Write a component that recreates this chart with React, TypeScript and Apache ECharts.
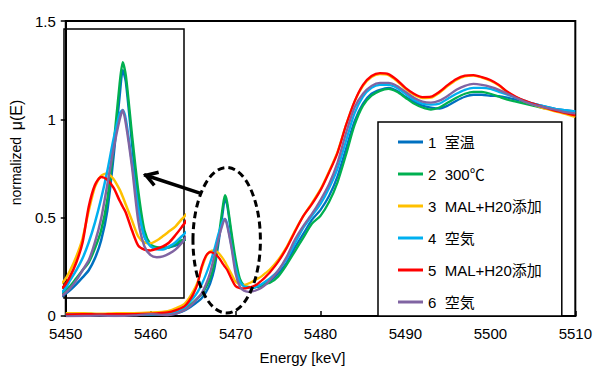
import React, { useEffect, useRef } from "react";
import * as echarts from "echarts";

const energy = [5450, 5452, 5454, 5456, 5458, 5460, 5462, 5463, 5464, 5464.5, 5465, 5465.5, 5466, 5466.5, 5467, 5467.5, 5468, 5468.5, 5468.75, 5469, 5469.5, 5470, 5470.5, 5471, 5471.5, 5472, 5472.5, 5473, 5473.5, 5474, 5475, 5476, 5477, 5478, 5479, 5480, 5481, 5482, 5483, 5484, 5485, 5486, 5487, 5488, 5489, 5490, 5491, 5492, 5493, 5494, 5495, 5496, 5497, 5498, 5499, 5500, 5501, 5502, 5503, 5504, 5505, 5506, 5507, 5508, 5509, 5510];

const seriesNames = ["1  室温", "2  300℃", "3  MAL+H20添加", "4  空気", "5  MAL+H20添加", "6  空気"];
const seriesColors = ["#0070C0", "#00B050", "#FFC000", "#00B0F0", "#FF0000", "#8064A2"];

const s1 = [0.006, 0.008, 0.006, 0.007, 0.008, 0.007, 0.008, 0.012, 0.028, 0.04, 0.055, 0.072, 0.09, 0.12, 0.165, 0.24, 0.375, 0.53, 0.594, 0.565, 0.41, 0.26, 0.175, 0.152, 0.146, 0.146, 0.148, 0.152, 0.16, 0.175, 0.215, 0.27, 0.35, 0.42, 0.49, 0.54, 0.61, 0.71, 0.85, 0.99, 1.08, 1.13, 1.15, 1.16, 1.145, 1.115, 1.09, 1.07, 1.06, 1.055, 1.07, 1.095, 1.115, 1.125, 1.125, 1.12, 1.118, 1.11, 1.1, 1.09, 1.08, 1.07, 1.06, 1.05, 1.045, 1.04];
const s2 = [0.01, 0.012, 0.01, 0.01, 0.012, 0.01, 0.012, 0.018, 0.035, 0.05, 0.07, 0.09, 0.11, 0.145, 0.19, 0.267, 0.4, 0.56, 0.614, 0.58, 0.43, 0.29, 0.19, 0.155, 0.148, 0.146, 0.148, 0.156, 0.166, 0.168, 0.2, 0.26, 0.33, 0.4, 0.47, 0.51, 0.58, 0.68, 0.82, 0.97, 1.07, 1.12, 1.145, 1.155, 1.14, 1.11, 1.08, 1.06, 1.05, 1.06, 1.085, 1.11, 1.13, 1.14, 1.14, 1.13, 1.115, 1.1, 1.09, 1.08, 1.07, 1.06, 1.052, 1.045, 1.038, 1.03];
const s3 = [0.015, 0.015, 0.012, 0.015, 0.015, 0.018, 0.025, 0.04, 0.063, 0.09, 0.125, 0.17, 0.24, 0.3, 0.328, 0.334, 0.32, 0.293, 0.275, 0.255, 0.215, 0.175, 0.16, 0.158, 0.165, 0.176, 0.188, 0.2, 0.218, 0.235, 0.285, 0.35, 0.435, 0.51, 0.575, 0.645, 0.735, 0.835, 0.97, 1.09, 1.17, 1.215, 1.23, 1.225, 1.195, 1.155, 1.125, 1.108, 1.11, 1.135, 1.17, 1.2, 1.218, 1.222, 1.212, 1.196, 1.172, 1.138, 1.112, 1.092, 1.076, 1.06, 1.048, 1.036, 1.025, 1.012];
const s4 = [0.008, 0.008, 0.007, 0.008, 0.009, 0.008, 0.012, 0.02, 0.04, 0.065, 0.09, 0.12, 0.16, 0.21, 0.27, 0.34, 0.42, 0.485, 0.494, 0.47, 0.36, 0.245, 0.175, 0.15, 0.143, 0.142, 0.15, 0.16, 0.175, 0.19, 0.23, 0.29, 0.37, 0.45, 0.51, 0.57, 0.65, 0.75, 0.89, 1.03, 1.115, 1.16, 1.175, 1.175, 1.16, 1.13, 1.1, 1.08, 1.075, 1.08, 1.105, 1.13, 1.15, 1.16, 1.16, 1.155, 1.14, 1.125, 1.11, 1.095, 1.08, 1.07, 1.06, 1.05, 1.045, 1.04];
const s5 = [0.008, 0.01, 0.008, 0.01, 0.01, 0.012, 0.018, 0.03, 0.05, 0.075, 0.11, 0.16, 0.25, 0.305, 0.325, 0.318, 0.298, 0.265, 0.25, 0.235, 0.19, 0.152, 0.142, 0.14, 0.144, 0.15, 0.16, 0.178, 0.198, 0.22, 0.275, 0.345, 0.43, 0.51, 0.57, 0.64, 0.73, 0.83, 0.97, 1.09, 1.175, 1.22, 1.235, 1.23, 1.2, 1.16, 1.13, 1.113, 1.115, 1.14, 1.175, 1.205, 1.222, 1.225, 1.215, 1.2, 1.175, 1.14, 1.115, 1.095, 1.08, 1.065, 1.052, 1.04, 1.03, 1.02];
const s6 = [-0.003, 0.0, 0.002, 0.0, 0.003, 0.01, 0.005, 0.012, 0.03, 0.045, 0.065, 0.09, 0.115, 0.16, 0.22, 0.305, 0.395, 0.47, 0.494, 0.46, 0.35, 0.215, 0.15, 0.128, 0.123, 0.125, 0.132, 0.142, 0.158, 0.18, 0.23, 0.3, 0.39, 0.46, 0.52, 0.59, 0.67, 0.78, 0.93, 1.06, 1.13, 1.17, 1.185, 1.185, 1.17, 1.14, 1.11, 1.09, 1.085, 1.095, 1.12, 1.15, 1.17, 1.18, 1.175, 1.165, 1.15, 1.13, 1.11, 1.09, 1.075, 1.065, 1.055, 1.045, 1.035, 1.03];

const seriesValues = [s1, s2, s3, s4, s5, s6];

const xTicks = { min: 5450, max: 5510, interval: 10 };
const yTicks = { min: 0, max: 1.5, interval: 0.5 };
const insetRange = { xMin: 5464.0, xMax: 5473.7, yMin: 0.02, yMax: 0.698 };

// annotation anchors, in data coordinates
const ellipseCenter = [5468.95, 0.385];
const ellipseRadius = [3.97, 0.37];
const arrowFrom = [5465.8, 0.625];
const arrowTo = [5459.45, 0.715];

const FONT = "'Liberation Sans', 'Noto Sans CJK JP', sans-serif";

export default function App() {
  const ref = useRef<HTMLDivElement>(null);

  useEffect(() => {
    document.body.style.margin = "0";
    if (!ref.current) return;
    const chart = echarts.init(ref.current, null, { renderer: "svg" });

    const series: any[] = [];
    seriesValues.forEach((vals, i) => {
      const data = energy.map((e, k) => [e, vals[k]]);
      series.push({
        name: seriesNames[i],
        type: "line",
        xAxisIndex: 0,
        yAxisIndex: 0,
        data,
        symbol: "none",
        smooth: 0.25,
        lineStyle: { color: seriesColors[i], width: 2.3 },
        itemStyle: { color: seriesColors[i] },
      });
    });
    seriesValues.forEach((vals, i) => {
      const data = energy.map((e, k) => [e, vals[k]]);
      series.push({
        name: seriesNames[i],
        type: "line",
        xAxisIndex: 1,
        yAxisIndex: 1,
        data,
        symbol: "none",
        smooth: 0.25,
        clip: true,
        lineStyle: { color: seriesColors[i], width: 2.5 },
        itemStyle: { color: seriesColors[i] },
      });
    });

    const option: any = {
      animation: false,
      backgroundColor: "#fff",
      textStyle: { fontFamily: FONT },
      grid: [
        { left: 58, right: 16, top: 21, bottom: 49, show: true, borderColor: "#000", borderWidth: 2, backgroundColor: "transparent" },
        { left: 64, top: 29, width: 120, height: 269, show: true, borderColor: "#000", borderWidth: 1.5, backgroundColor: "#fff" },
      ],
      xAxis: [
        {
          type: "value",
          gridIndex: 0,
          min: xTicks.min,
          max: xTicks.max,
          interval: xTicks.interval,
          name: "Energy [keV]",
          nameLocation: "middle",
          nameGap: 34,
          nameTextStyle: { fontSize: 15, color: "#000", fontFamily: FONT, padding: [0, 36, 0, 0] },
          axisLine: { show: true, lineStyle: { color: "#000", width: 2 } },
          axisTick: { show: true, inside: true, length: 5, lineStyle: { color: "#000", width: 1.5 } },
          axisLabel: { color: "#000", fontSize: 15, margin: 10, fontFamily: FONT, formatter: (v: number) => String(v) },
          splitLine: { show: false },
        },
        {
          type: "value",
          gridIndex: 1,
          min: insetRange.xMin,
          max: insetRange.xMax,
          show: false,
          splitLine: { show: false },
        },
      ],
      yAxis: [
        {
          type: "value",
          gridIndex: 0,
          min: yTicks.min,
          max: yTicks.max,
          interval: yTicks.interval,
          name: "{a|normalized}  {b|μ(E)}",
          nameLocation: "middle",
          nameGap: 30,
          nameRotate: 90,
          nameTextStyle: {
            color: "#000",
            padding: [0, 0, 0, 32],
            rich: {
              a: { fontSize: 14, color: "#000", fontFamily: FONT },
              b: { fontSize: 16, color: "#000", fontFamily: FONT },
            },
          },
          axisLine: { show: true, lineStyle: { color: "#000", width: 2 } },
          axisTick: { show: true, inside: false, length: 5, lineStyle: { color: "#000", width: 1.5 } },
          axisLabel: { color: "#000", fontSize: 15, margin: 10, fontFamily: FONT },
          splitLine: { show: false },
        },
        {
          type: "value",
          gridIndex: 1,
          min: insetRange.yMin,
          max: insetRange.yMax,
          show: false,
          splitLine: { show: false },
        },
      ],
      legend: {
        data: seriesNames,
        orient: "vertical",
        left: 378,
        top: 122,
        padding: [12, 20, 6, 20],
        itemGap: 16,
        itemWidth: 25,
        itemHeight: 3,
        itemTextGap: 3,
        icon: "rect",
        backgroundColor: "#fff",
        borderColor: "#000",
        borderWidth: 1.5,
        borderRadius: 0,
        textStyle: { fontSize: 15, color: "#000", fontFamily: FONT, lineHeight: 16, height: 16 },
      },
      series,
    };

    chart.setOption(option);

    const px = (p: number[]) => chart.convertToPixel({ gridIndex: 0 }, p) as number[];
    const c = px(ellipseCenter);
    const ex = px([ellipseCenter[0] + ellipseRadius[0], ellipseCenter[1]]);
    const ey = px([ellipseCenter[0], ellipseCenter[1] + ellipseRadius[1]]);
    const a0 = px(arrowFrom);
    const a1 = px(arrowTo);
    const dx = a1[0] - a0[0];
    const dy = a1[1] - a0[1];
    const len = Math.sqrt(dx * dx + dy * dy);
    const ux = dx / len;
    const uy = dy / len;
    const headLen = 13;
    const ang = (32 * Math.PI) / 180;
    const rot = (x: number, y: number, t: number) => [x * Math.cos(t) - y * Math.sin(t), x * Math.sin(t) + y * Math.cos(t)];
    const h1 = rot(-ux, -uy, ang);
    const h2 = rot(-ux, -uy, -ang);

    chart.setOption({
      graphic: [
        {
          type: "ellipse",
          z: 100,
          shape: { cx: c[0], cy: c[1], rx: ex[0] - c[0], ry: c[1] - ey[1] },
          style: { fill: "none", stroke: "#000", lineWidth: 3, lineDash: [7, 4] },
        },
        {
          type: "line",
          z: 100,
          shape: { x1: a0[0], y1: a0[1], x2: a1[0] + ux * 2, y2: a1[1] + uy * 2 },
          style: { stroke: "#000", lineWidth: 3.5 },
        },
        {
          type: "polyline",
          z: 100,
          shape: {
            points: [
              [a1[0] + h1[0] * headLen, a1[1] + h1[1] * headLen],
              [a1[0], a1[1]],
              [a1[0] + h2[0] * headLen, a1[1] + h2[1] * headLen],
            ],
          },
          style: { stroke: "#000", lineWidth: 3.5, fill: "none", lineJoin: "miter" },
        },
      ],
    });

    return () => chart.dispose();
  }, []);

  return <div ref={ref} style={{ width: 595, height: 370 }} />;
}
